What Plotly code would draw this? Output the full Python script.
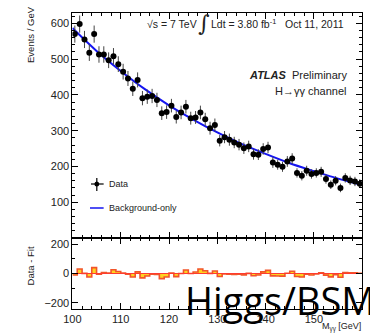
import plotly.graph_objects as go

# ---------------- data ----------------
mass = [100.5 + i for i in range(60)]
events = [570, 598, 555, 518, 570, 513, 513, 497, 508, 486,
          465, 446, 417, 442, 391, 395, 397, 386, 349, 352,
          370, 338, 351, 367, 335, 337, 351, 332, 307, 316,
          272, 282, 275, 267, 261, 251, 256, 234, 233, 249,
          253, 211, 205, 199, 214, 222, 182, 174, 188, 179,
          182, 185, 165, 149, 160, 140, 168, 161, 158, 152]
errors = [24, 24, 24, 23, 24, 23, 23, 22, 23, 22,
          22, 21, 20, 21, 20, 20, 20, 20, 19, 19,
          19, 18, 19, 19, 18, 18, 19, 18, 18, 18,
          16, 17, 17, 16, 16, 16, 16, 15, 15, 16,
          16, 15, 14, 14, 15, 15, 13, 13, 14, 13,
          13, 14, 13, 12, 13, 12, 13, 13, 13, 12]
fit_mass = [100, 105, 110, 115, 120, 125, 130, 135, 140, 145, 150, 155, 160]
fit_vals = [587, 523, 467, 416, 371, 331, 295, 263, 235, 209, 187, 166, 148]
bin_edges = [100 + i for i in range(61)]
residuals = [-10, 31, 1, -24, 40, -5, 7, 3, 25, 14,
             3, -5, -24, 11, -30, -17, -5, -7, -35, -24,
             3, -21, 0, 24, 0, 10, 31, 19, 1, 17,
             -20, -3, -4, -6, -5, -9, 1, -15, -10, 11,
             21, -16, -17, -18, 2, 15, -20, -24, -5, -10,
             -3, 4, -11, -23, -8, -25, 7, 4, 4, 2]
x_ticks = [100, 110, 120, 130, 140, 150, 160]

W, H = 370, 336
FONT = "Liberation Sans, Arial, Helvetica, sans-serif"
TXT = "#222"


def px(x):
    return x / W


def py(y):
    return 1 - y / H


fig = go.Figure()

# residual histogram (lower panel)
fig.add_trace(go.Scatter(
    x=bin_edges, y=residuals + [residuals[-1]], mode="lines",
    line=dict(shape="hv", color="#f2542a", width=1.6),
    fill="tozeroy", fillcolor="#ffd21f",
    xaxis="x2", yaxis="y2", showlegend=False, hoverinfo="skip"))
fig.add_trace(go.Scatter(
    x=[bin_edges[0], bin_edges[-1]], y=[0, 0], mode="lines",
    line=dict(color="#ff3b2f", width=1),
    xaxis="x2", yaxis="y2", showlegend=False, hoverinfo="skip"))

# fit line
fig.add_trace(go.Scatter(
    x=fit_mass, y=fit_vals, mode="lines",
    line=dict(color="#1515f0", width=2, shape="spline"),
    xaxis="x", yaxis="y", showlegend=False))

# data
fig.add_trace(go.Scatter(
    x=mass, y=events, mode="markers",
    marker=dict(color="black", size=6),
    error_y=dict(type="data", array=errors, thickness=1, width=0, color="#444"),
    xaxis="x", yaxis="y", showlegend=False))

xdom = [px(65), px(362)]
main_dom = [py(238), py(13)]
low_dom = [py(309), py(238)]

axis_common = dict(showline=True, linecolor="black", linewidth=1, mirror="ticks",
                   ticks="inside", ticklen=6, tickcolor="black", showgrid=False,
                   zeroline=False, tickfont=dict(family=FONT, size=11, color=TXT))

fig.update_layout(
    width=W, height=H, autosize=False,
    margin=dict(l=0, r=0, t=0, b=0),
    paper_bgcolor="white", plot_bgcolor="white",
    xaxis=dict(domain=xdom, range=[100, 160], anchor="y", showticklabels=False,
               tickvals=x_ticks,
               minor=dict(dtick=2, ticklen=3, ticks="inside", tickcolor="black"),
               **axis_common),
    yaxis=dict(domain=main_dom, range=[0, 629], anchor="x",
               tickvals=[100, 200, 300, 400, 500, 600],
               minor=dict(dtick=20, ticklen=3, ticks="inside", tickcolor="black"),
               **axis_common),
    xaxis2=dict(domain=xdom, range=[100, 160], anchor="y2", tickvals=x_ticks,
                minor=dict(dtick=2, ticklen=3, ticks="inside", tickcolor="black"),
                **axis_common),
    yaxis2=dict(domain=low_dom, range=[-241, 241], anchor="x2",
                tickvals=[-200, 0, 200],
                minor=dict(dtick=100, ticklen=3, ticks="inside", tickcolor="black"),
                **axis_common),
)

ann = []


def text(x, y, s, size=10.5, xanchor="left", yanchor="middle", angle=0, family=FONT, color=TXT):
    ann.append(dict(x=px(x), y=py(y), xref="paper", yref="paper", text=s, showarrow=False,
                    xanchor=xanchor, yanchor=yanchor, textangle=angle,
                    font=dict(family=family, size=size, color=color)))


text(139, 24, "√s = 7 TeV", 10.5)
text(200, 24, "∫", 22, xanchor="center", family="DejaVu Serif")
text(205, 24, "Ldt = 3.80 fb<sup>-1</sup>", 10.5)
text(345, 24, "Oct 11, 2011", 10.5, xanchor="right")
text(348, 75, "<b><i>ATLAS</i></b>  Preliminary", 11, xanchor="right")
text(348, 91, "H→γγ channel", 11, xanchor="right")
text(100, 184, "Data", 9)
text(100, 208, "Background-only", 9)
text(22, 4, "Events / GeV", 9.5, yanchor="top", angle=-90, xanchor="center")
text(22, 266, "Data - Fit", 9.5, angle=-90, xanchor="center")
text(363, 327, "M<sub>γγ</sub> [GeV]", 9, xanchor="right")
text(178, 300, "Higgs/BSM", 38, yanchor="middle", family="Open Sans", color="black")
fig.update_layout(annotations=ann)

# legend glyphs
shapes = [
    dict(type="line", xref="paper", yref="paper", x0=px(90), x1=px(90), y0=py(178), y1=py(191),
         line=dict(color="black", width=1.2)),
    dict(type="line", xref="paper", yref="paper", x0=px(84), x1=px(97), y0=py(184), y1=py(184),
         line=dict(color="black", width=1.2)),
    dict(type="circle", xref="paper", yref="paper", x0=px(87.5), x1=px(92.5), y0=py(186.5), y1=py(181.5),
         fillcolor="black", line=dict(color="black", width=0)),
    dict(type="line", xref="paper", yref="paper", x0=px(83), x1=px(97), y0=py(208), y1=py(208),
         line=dict(color="#1515f0", width=1.5)),
]
fig.update_layout(shapes=shapes)

fig.write_html("out.html")
